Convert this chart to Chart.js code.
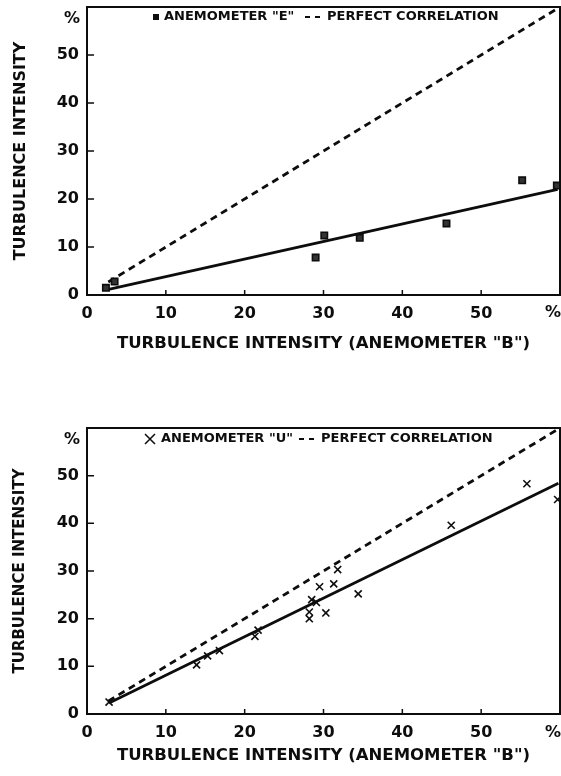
<!DOCTYPE html>
<html>
<head>
<meta charset="utf-8">
<script src="https://cdn.jsdelivr.net/npm/chart.js@4.4.1/dist/chart.umd.min.js"></script>
<style>
  body { margin: 0; background: #fff; }
  canvas { position: absolute; left: 0; }
</style>
</head>
<body>
<canvas id="chartE" width="561" height="362" style="top:0"></canvas>
<canvas id="chartU" width="561" height="356" style="top:420px"></canvas>
<script>
// axis ticks (the 60 tick carries a "%" instead of a number)
const tickValues = [0, 10, 20, 30, 40, 50, 60];

// anemometer "E" vs "B"
const eX = [2.4, 3.5, 29.0, 30.1, 34.6, 45.6, 55.2, 59.6];
const eY = [1.5, 2.8, 7.8, 12.4, 11.9, 14.9, 23.9, 22.8];
const eFitX = [2.6, 59.7];
const eFitY = [1.1, 22.0];

// anemometer "U" vs "B"
const uX = [2.8, 13.9, 15.3, 16.8, 21.3, 21.7, 28.2, 28.2, 28.5, 29.1, 29.5, 30.3, 31.3, 31.8, 34.4, 46.2, 55.8, 59.7];
const uY = [2.5, 10.3, 12.2, 13.3, 16.3, 17.6, 20.0, 21.4, 24.0, 23.4, 26.7, 21.2, 27.3, 30.3, 25.2, 39.6, 48.3, 45.0];
const uFitX = [2.8, 59.8];
const uFitY = [2.3, 48.4];

// perfect correlation y = x
const eqX = [2.7, 60];
const eqY = [2.7, 60];

const xTitle = 'TURBULENCE INTENSITY (ANEMOMETER "B")';
const yTitle = 'TURBULENCE INTENSITY';
const perfectLabel = 'PERFECT CORRELATION';

const INK = '#0d0d0d';
const FONT = 'DejaVu Sans';

const pts = (xs, ys) => xs.map((x, i) => ({ x: x, y: ys[i] }));

// keep chart.js from reserving room for the hidden end labels
const noPad = s => {
  s.paddingTop = 0; s.paddingBottom = 0;
  s.paddingLeft = 0; s.paddingRight = 0;
};

// frame, inward ticks, "%" marks and the in-plot legend
const frameExtras = {
  id: 'frameExtras',
  afterDraw(chart, args, o) {
    const { ctx, chartArea: a, scales: { x, y } } = chart;
    ctx.save();
    ctx.strokeStyle = INK;
    ctx.fillStyle = INK;
    ctx.lineWidth = 2;
    ctx.beginPath();
    ctx.moveTo(a.left, a.top);
    ctx.lineTo(a.right, a.top);
    ctx.lineTo(a.right, a.bottom);
    ctx.stroke();

    ctx.lineWidth = 1.5;
    ctx.beginPath();
    x.ticks.forEach(t => {
      if (t.value > 0 && t.value < 60) {
        const px = x.getPixelForValue(t.value);
        ctx.moveTo(px, a.bottom);
        ctx.lineTo(px, a.bottom - 5);
      }
    });
    y.ticks.forEach(t => {
      if (t.value > 0 && t.value < 60) {
        const py = y.getPixelForValue(t.value);
        ctx.moveTo(a.left, py);
        ctx.lineTo(a.left + 7, py);
      }
    });
    ctx.stroke();

    ctx.font = 'bold 16px ' + FONT;
    ctx.textBaseline = 'middle';
    ctx.textAlign = 'center';
    ctx.fillText('%', x.getPixelForValue(59.1), a.bottom + o.xLabelGap);
    ctx.textAlign = 'right';
    ctx.fillText('%', a.left - 7, y.getPixelForValue(57.6));

    // legend
    const ly = a.top + o.legendDy;
    if (o.marker === 'rect') {
      ctx.fillRect(o.markerX - 3, ly - 3, 6, 6);
    } else {
      ctx.lineWidth = 1.5;
      ctx.beginPath();
      ctx.moveTo(o.markerX - 5, ly - 5); ctx.lineTo(o.markerX + 5, ly + 5);
      ctx.moveTo(o.markerX + 5, ly - 5); ctx.lineTo(o.markerX - 5, ly + 5);
      ctx.stroke();
    }
    ctx.font = 'bold 13px ' + FONT;
    ctx.textAlign = 'left';
    ctx.fillText(o.label, o.textX, ly);
    ctx.lineWidth = 2;
    ctx.setLineDash([5, 5]);
    ctx.beginPath();
    ctx.moveTo(o.dashX, ly);
    ctx.lineTo(o.dashX + 15, ly);
    ctx.stroke();
    ctx.setLineDash([]);
    ctx.fillText(perfectLabel, o.perfectX, ly);
    ctx.restore();
  }
};

function makeChart(id, cfg) {
  const canvas = document.getElementById(id);
  const h = canvas.height;
  return new Chart(canvas.getContext('2d'), {
    type: 'scatter',
    data: {
      datasets: [
        {
          data: pts(cfg.xs, cfg.ys),
          pointStyle: cfg.marker === 'rect' ? 'rect' : 'crossRot',
          pointRadius: cfg.marker === 'rect' ? 4.5 : 5,
          pointBorderWidth: 1.6,
          pointBorderColor: INK,
          pointBackgroundColor: '#333',
          showLine: false,
          clip: false
        },
        {
          data: pts(cfg.fitX, cfg.fitY),
          showLine: true,
          borderColor: INK,
          borderWidth: 2.8,
          pointRadius: 0
        },
        {
          data: pts(eqX, eqY),
          showLine: true,
          borderColor: INK,
          borderWidth: 2.8,
          borderDash: [7, 5],
          pointRadius: 0
        }
      ]
    },
    options: {
      responsive: false,
      animation: false,
      events: [],
      layout: { autoPadding: false, padding: { top: cfg.top, right: 1, left: 0, bottom: 0 } },
      plugins: {
        legend: { display: false },
        tooltip: { enabled: false },
        frameExtras: cfg.extras
      },
      scales: {
        x: {
          type: 'linear',
          min: 0,
          max: 60,
          afterBuildTicks: s => { s.ticks = tickValues.map(v => ({ value: v })); },
          afterFit: s => { s.height = h - cfg.bottom; noPad(s); },
          grid: { display: false, drawTicks: false },
          border: { display: true, color: INK, width: 2 },
          ticks: {
            padding: 9,
            maxRotation: 0,
            autoSkip: false,
            color: INK,
            font: { family: FONT, size: 16, weight: 'bold' },
            callback: v => (v === 60 ? '' : v)
          },
          title: {
            display: true,
            text: xTitle,
            color: INK,
            font: { family: FONT, size: 16.5, weight: 'bold' },
            padding: { top: 0, bottom: cfg.xTitlePad }
          }
        },
        y: {
          type: 'linear',
          min: 0,
          max: 60,
          afterBuildTicks: s => { s.ticks = tickValues.map(v => ({ value: v })); },
          afterFit: s => { s.width = 87; noPad(s); },
          grid: { display: false, drawTicks: false },
          border: { display: true, color: INK, width: 2 },
          ticks: {
            padding: 8,
            autoSkip: false,
            color: INK,
            font: { family: FONT, size: 16, weight: 'bold' },
            callback: v => (v === 60 ? '' : v)
          },
          title: {
            display: true,
            text: yTitle,
            color: INK,
            font: { family: FONT, size: cfg.yTitleSize, weight: 'bold' },
            padding: { top: 11, bottom: 0 }
          }
        }
      }
    },
    plugins: [frameExtras]
  });
}

makeChart('chartE', {
  xs: eX, ys: eY, fitX: eFitX, fitY: eFitY, marker: 'rect',
  top: 7, bottom: 295, xTitlePad: 8, yTitleSize: 16,
  extras: { marker: 'rect', label: 'ANEMOMETER "E"', markerX: 156, textX: 164,
            dashX: 305, perfectX: 327, legendDy: 10, xLabelGap: 18 }
});

makeChart('chartU', {
  xs: uX, ys: uY, fitX: uFitX, fitY: uFitY, marker: 'cross',
  top: 8, bottom: 294, xTitlePad: 10, yTitleSize: 15,
  extras: { marker: 'cross', label: 'ANEMOMETER "U"', markerX: 150, textX: 161,
            dashX: 299, perfectX: 321, legendDy: 11, xLabelGap: 19 }
});
</script>
</body>
</html>
